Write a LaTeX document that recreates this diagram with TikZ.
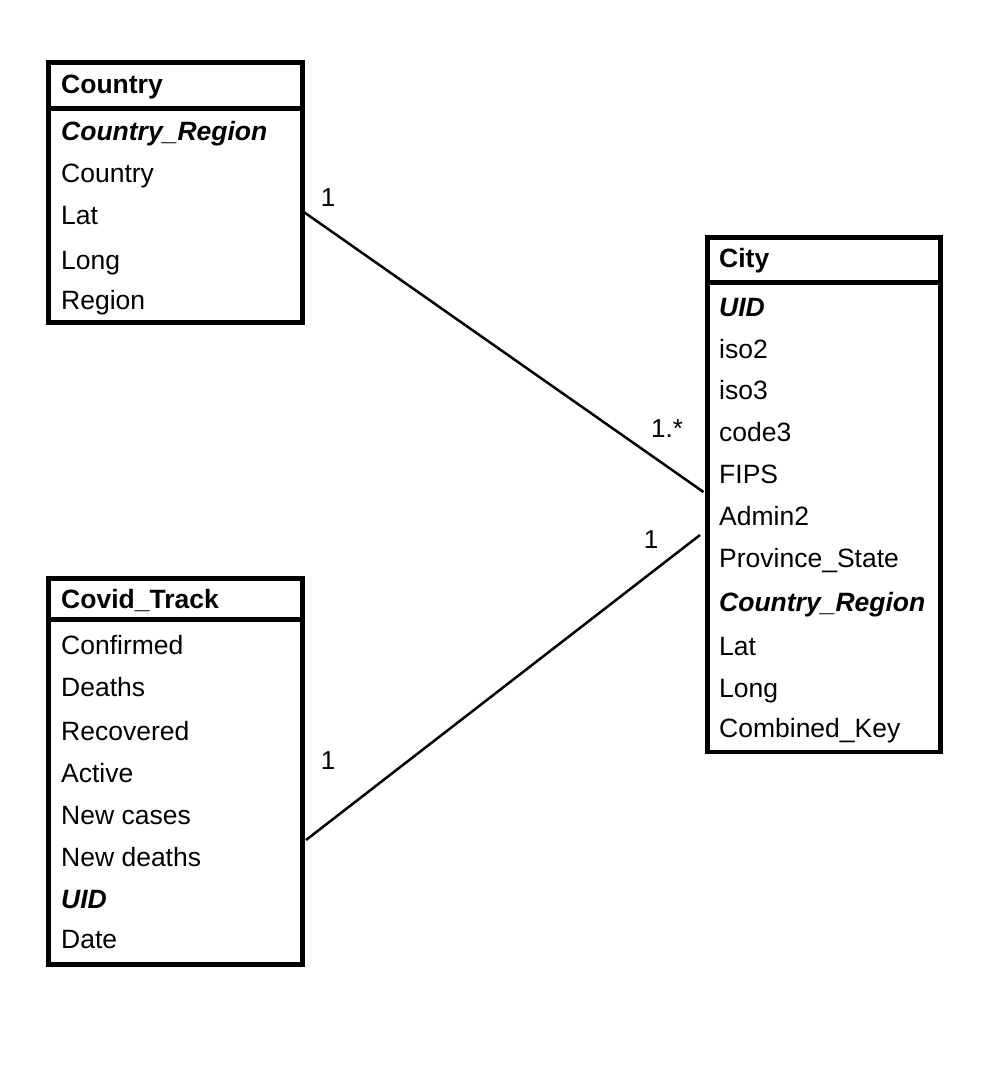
\documentclass[tikz,border=0pt]{standalone}
\usepackage{fontspec}
\setmainfont{Liberation Sans}
\begin{document}
\begin{tikzpicture}[x=1pt,y=-1pt,
  box/.style={draw, line width=4.5pt, rectangle, anchor=north west, inner sep=0pt, outer sep=0pt},
  divider/.style={line width=5pt},
  field/.style={anchor=base west, inner sep=0pt, font=\fontsize{26.5}{30}\selectfont},
  keyfield/.style={anchor=base west, inner sep=0pt, font=\fontsize{26.5}{30}\selectfont\bfseries\itshape},
  titlefield/.style={anchor=base west, inner sep=0pt, font=\fontsize{26.5}{30}\selectfont\bfseries},
  conn/.style={line width=2.5pt},
  mult/.style={inner sep=0pt, font=\fontsize{26}{30}\selectfont}]
\useasboundingbox (0,0) rectangle (994,1074);

% Country
\node[box, minimum width=254pt, minimum height=260pt] (country) at (48.5,62.5) {};
\draw[divider] ([yshift=-46pt]country.north west) -- ([yshift=-46pt]country.north east);
\node[titlefield] (ct) at (61,93) {Country};
\node[keyfield] (c1) at (61,140.5) {Country\_Region};
\node[field] (c2) at (61,182) {Country};
\node[field] (c3) at (61,224) {Lat};
\node[field] (c4) at (61,269.5) {Long};
\node[field] (c5) at (61,309) {Region};

% City
\node[box, minimum width=233pt, minimum height=514.5pt] (city) at (707.5,237.5) {};
\draw[divider] ([yshift=-45pt]city.north west) -- ([yshift=-45pt]city.north east);
\node[titlefield] (yt) at (719,267.5) {City};
\node[keyfield] (y1) at (719,316) {UID};
\node[field] (y2) at (719,358) {iso2};
\node[field] (y3) at (719,399) {iso3};
\node[field] (y4) at (719,441) {code3};
\node[field] (y5) at (719,483) {FIPS};
\node[field] (y6) at (719,525) {Admin2};
\node[field] (y7) at (719,567) {Province\_State};
\node[keyfield] (y8) at (719,611) {Country\_Region};
\node[field] (y9) at (719,655) {Lat};
\node[field] (y10) at (719,697) {Long};
\node[field] (y11) at (719,737) {Combined\_Key};

% Covid_Track
\node[box, minimum width=254pt, minimum height=386pt] (covid) at (48.5,578.5) {};
\draw[divider] ([yshift=-40.5pt]covid.north west) -- ([yshift=-40.5pt]covid.north east);
\node[titlefield] (vt) at (61,608.5) {Covid\_Track};
\node[field] (v1) at (61,654.5) {Confirmed};
\node[field] (v2) at (61,696.5) {Deaths};
\node[field] (v3) at (61,740.5) {Recovered};
\node[field] (v4) at (61,782.5) {Active};
\node[field] (v5) at (61,824.5) {New cases};
\node[field] (v6) at (61,866.5) {New deaths};
\node[keyfield] (v7) at (61,908.5) {UID};
\node[field] (v8) at (61,948.5) {Date};

% connectors
\coordinate (ca) at ([xshift=2pt,yshift=-150pt]country.north east);
\coordinate (ya) at ([xshift=-4pt,yshift=-254.5pt]city.north west);
\coordinate (va) at ([xshift=3.5pt,yshift=-261.5pt]covid.north east);
\coordinate (yb) at ([xshift=-7.5pt,yshift=-297.5pt]city.north west);
\draw[conn] (ca) -- (ya);
\draw[conn] (va) -- (yb);

\node[mult] (m1) at (328,198) {1};
\node[mult] (m2) at (667,429) {1.*};
\node[mult] (m3) at (651,540) {1};
\node[mult] (m4) at (328,761) {1};
\end{tikzpicture}
\end{document}
